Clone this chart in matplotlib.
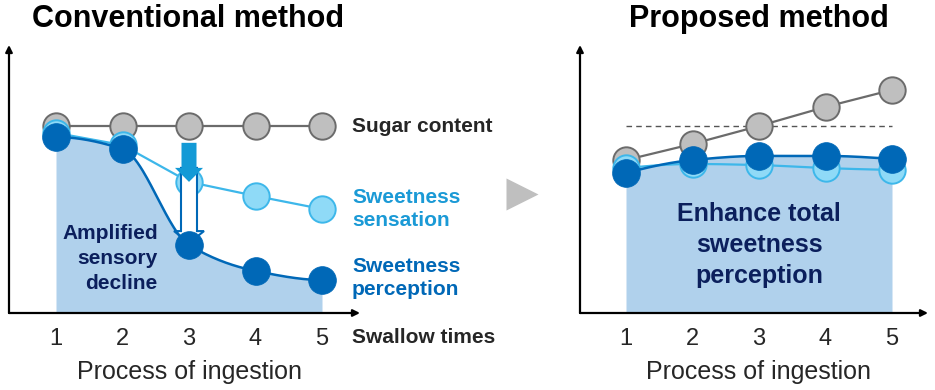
import numpy as np
import matplotlib
matplotlib.use('Agg')
import matplotlib.pyplot as plt
from matplotlib.patches import FancyArrow
from matplotlib.lines import Line2D

plt.rcParams['font.family'] = ['Liberation Sans', 'DejaVu Sans']

# swallow number
swallows = [1, 2, 3, 4, 5]
tick_labels = ['1', '2', '3', '4', '5']

# conventional method (relative level, sugar content = 100)
sugar_conv = [100, 100, 100, 100, 100]
sens_conv = [96.3, 89.8, 70.1, 62.6, 55.6]
perc_conv = [94.1, 87.7, 36.4, 22.5, 17.6]

# proposed method
sugar_prop = [81.8, 90.4, 100, 110.2, 119.3]
sens_prop = [77.5, 79.7, 79.1, 77.5, 76.5]
perc_prop = [74.9, 81.8, 84.0, 84.0, 82.4]
ref_level = 100  # sugar content of conventional method

GRAY_FILL = '#bfbfbf'
GRAY_EDGE = '#6b6b6b'
LIGHT_FILL = '#8fdaf7'
LIGHT_EDGE = '#3db7ea'
DARK = '#0068b7'
AREA = '#b0d1ec'
NAVY = '#0b1f5c'
TXT = '#262626'


def pchip(x, y, xs):
    # monotone cubic (Fritsch-Carlson) just to draw a smooth line
    x = np.asarray(x, float)
    y = np.asarray(y, float)
    h = np.diff(x)
    d = np.diff(y) / h
    m = np.zeros_like(y)
    for k in range(1, len(x) - 1):
        if d[k-1] * d[k] > 0:
            w1 = 2*h[k] + h[k-1]
            w2 = h[k] + 2*h[k-1]
            m[k] = (w1 + w2) / (w1/d[k-1] + w2/d[k])
    for i, (a, hh) in enumerate([(0, (h[0], h[1])), (-1, (h[-1], h[-2]))]):
        h0, h1 = hh
        dd0, dd1 = (d[0], d[1]) if i == 0 else (d[-1], d[-2])
        s = ((2*h0 + h1)*dd0 - h0*dd1) / (h0 + h1)
        if np.sign(s) != np.sign(dd0):
            s = 0
        elif np.sign(dd0) != np.sign(dd1) and abs(s) > abs(3*dd0):
            s = 3*dd0
        m[a] = s
    idx = np.clip(np.searchsorted(x, xs) - 1, 0, len(x) - 2)
    t = (xs - x[idx]) / h[idx]
    h00 = 2*t**3 - 3*t**2 + 1
    h10 = t**3 - 2*t**2 + t
    h01 = -2*t**3 + 3*t**2
    h11 = t**3 - t**2
    return h00*y[idx] + h10*h[idx]*m[idx] + h01*y[idx+1] + h11*h[idx]*m[idx+1]


W, H = 935, 390
fig = plt.figure(figsize=(W/100, H/100), dpi=100)


def make_axes(x_axis_px, x_end_px, x1_px):
    ax = fig.add_axes([x_axis_px/W, (H-313)/H, (x_end_px-x_axis_px)/W, (313-45)/H])
    upx = 66.5
    ax.set_xlim(1 - (x1_px - x_axis_px)/upx, 1 - (x1_px - x_axis_px)/upx + (x_end_px - x_axis_px)/upx)
    ax.set_ylim(0, (313-45)/1.87)
    for s in ax.spines.values():
        s.set_visible(False)
    ax.set_yticks([])
    ax.set_xticks(swallows)
    ax.set_xticklabels(tick_labels, fontsize=17, color=TXT)
    ax.tick_params(axis='x', length=0, pad=11)
    ax.annotate('', xy=(1, 0), xytext=(0, 0), xycoords='axes fraction',
                arrowprops=dict(arrowstyle='-|>', lw=1.6, color='black',
                                shrinkA=0, shrinkB=0, mutation_scale=10))
    ax.annotate('', xy=(0, 1), xytext=(0, 0), xycoords='axes fraction',
                arrowprops=dict(arrowstyle='-|>', lw=1.6, color='black',
                                shrinkA=0, shrinkB=0, mutation_scale=10))
    ax.text(3, -31.5, 'Process of ingestion', ha='center', va='center',
            fontsize=18, color=TXT)
    return ax


def draw_series(ax, sugar, sens, perc, sens_curve=False):
    xs = np.linspace(1, 5, 200)
    pc = pchip(swallows, perc, xs)
    ax.fill_between(xs, 0, pc, color=AREA, lw=0, zorder=1)
    ax.plot(swallows, sugar, color=GRAY_EDGE, lw=1.6, zorder=2)
    ax.plot(swallows, sugar, 'o', ms=19, mfc=GRAY_FILL, mec=GRAY_EDGE, mew=1.4, zorder=3)
    if sens_curve:
        ax.plot(xs, pchip(swallows, sens, xs), color=LIGHT_EDGE, lw=1.6, zorder=4)
    else:
        ax.plot(swallows, sens, color=LIGHT_EDGE, lw=1.6, zorder=4)
    ax.plot(swallows, sens, 'o', ms=19, mfc=LIGHT_FILL, mec=LIGHT_EDGE, mew=1.4, zorder=5)
    ax.plot(xs, pc, color=DARK, lw=1.8, zorder=7)
    ax.plot(swallows, perc, 'o', ms=20, mfc=DARK, mec=DARK, mew=0.5, zorder=8)


# ---- conventional
ax1 = make_axes(9, 360, 56)
draw_series(ax1, sugar_conv, sens_conv, perc_conv)
ax1.add_patch(FancyArrow(3, sens_conv[2] + 7.5, 0, perc_conv[2] + 1 - sens_conv[2] - 7.5,
                         width=16/66.5, head_width=30/66.5, head_length=6.4,
                         length_includes_head=True, fc='white', ec=DARK, lw=1.5, zorder=6))
ax1.add_patch(FancyArrow(3, sugar_conv[2] - 9, 0, sens_conv[2] - sugar_conv[2] + 9,
                         width=15/66.5, head_width=28/66.5, head_length=7.5,
                         length_includes_head=True, fc='#139ad6', ec='none', zorder=9))
ax1.text(5.45, sugar_conv[4], 'Sugar content', fontsize=15, fontweight='bold',
         color=TXT, va='center', ha='left')
ax1.text(5.45, 55.5, 'Sweetness\nsensation', fontsize=15, fontweight='bold',
         color='#1b9ad6', va='center', ha='left', linespacing=1.3)
ax1.text(5.45, 18.8, 'Sweetness\nperception', fontsize=15, fontweight='bold',
         color=DARK, va='center', ha='left', linespacing=1.3)
ax1.text(5.45, -13.2, 'Swallow times', fontsize=15, fontweight='bold',
         color=TXT, va='center', ha='left')
ax1.text(2.53, 28.9, 'Amplified\nsensory\ndecline', fontsize=15, fontweight='bold',
         color=NAVY, va='center', ha='right', linespacing=1.4, zorder=10)

# ---- proposed
ax2 = make_axes(580, 928, 626)
ax2.plot([1, 5], [ref_level, ref_level], color='#555555', lw=1, ls=(0, (4, 3)), zorder=2)
draw_series(ax2, sugar_prop, sens_prop, perc_prop, sens_curve=True)
ax2.text(3, 36.4, 'Enhance total\nsweetness\nperception', fontsize=18, fontweight='bold',
         color=NAVY, va='center', ha='center', linespacing=1.35, zorder=10)

# titles and middle arrow
fig.text(188/W, 1 - 19/H, 'Conventional method', fontsize=22, fontweight='bold',
         ha='center', va='center', color='black')
fig.text(759/W, 1 - 19/H, 'Proposed method', fontsize=22, fontweight='bold',
         ha='center', va='center', color='black')
fig.add_artist(Line2D([522/W], [1 - 194/H], marker='>', ms=23, color=GRAY_FILL,
                      mec='none', transform=fig.transFigure))

fig.savefig('out.png', dpi=100)
